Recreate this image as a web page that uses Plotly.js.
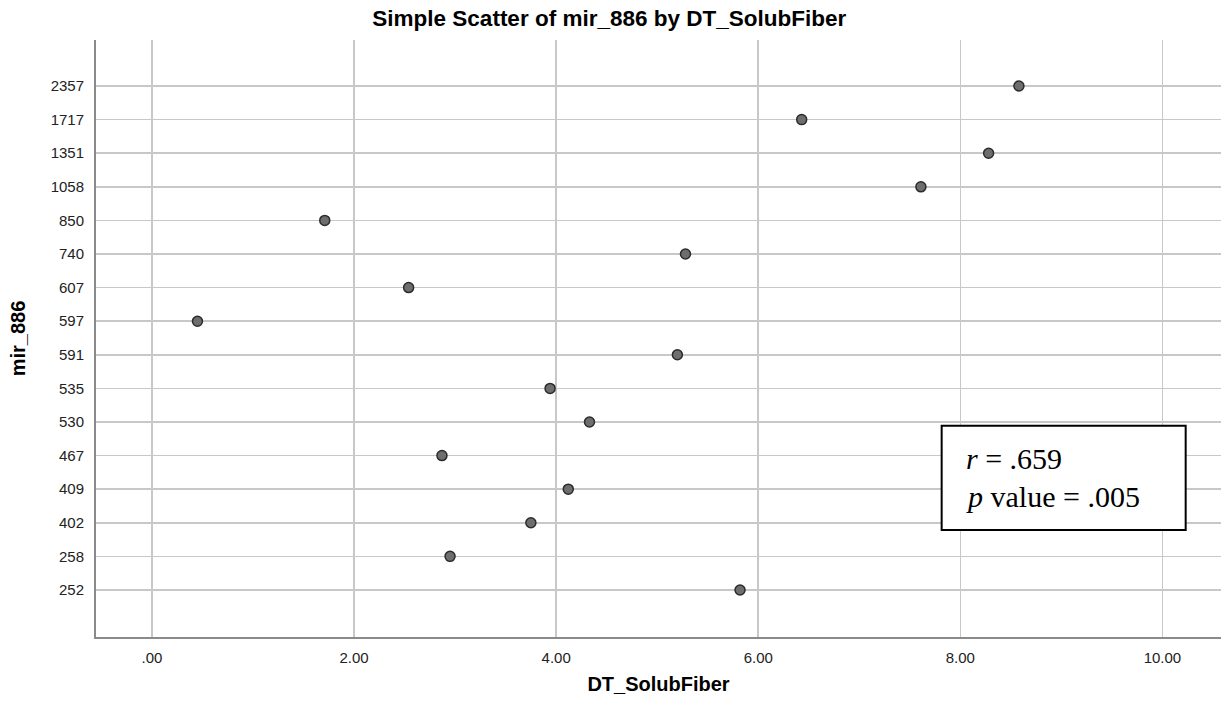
<!DOCTYPE html>
<html>
<head>
<meta charset="utf-8">
<script src="https://cdn.plot.ly/plotly-3.0.1.min.js"></script>
<style>html,body{margin:0;padding:0;background:#fff;}#chart{width:1221px;height:712px;}</style>
</head>
<body>
<div id="chart"></div>
<script>
// Categories of mir_886 (bottom to top)
const mirCategories = ["252","258","402","409","467","530","535","591","597","607","740","850","1058","1351","1717","2357"];
// Point data
const mirValues = ["2357","1717","1351","1058","850","740","607","597","591","535","530","467","409","402","258","252"];
const solubFiber = [8.58, 6.43, 8.28, 7.61, 1.71, 5.28, 2.54, 0.45, 5.20, 3.94, 4.33, 2.87, 4.12, 3.75, 2.95, 5.82];
// X tick labels
const xTickVals = [0, 2, 4, 6, 8, 10];
const xTickText = [".00", "2.00", "4.00", "6.00", "8.00", "10.00"];

const trace = {
  type: "scatter",
  mode: "markers",
  x: solubFiber,
  y: mirValues,
  marker: {size: 10, color: "#6e6e6e", line: {color: "#2b2b2b", width: 1.5}},
  hoverinfo: "x+y"
};

const layout = {
  width: 1221, height: 712,
  margin: {l: 96, r: 0, t: 40, b: 75},
  paper_bgcolor: "#ffffff", plot_bgcolor: "#ffffff",
  showlegend: false,
  title: {text: "<b>Simple Scatter of mir_886 by DT_SolubFiber</b>", x: 0.499, xanchor: "center", y: 0.975, yanchor: "middle",
          font: {family: "Liberation Sans, Arial, sans-serif", size: 22.5, color: "#000"}},
  xaxis: {
    range: [-0.554, 10.58],
    tickvals: xTickVals, ticktext: xTickText,
    showgrid: true, gridcolor: "#c8c8c8", gridwidth: 1.6,
    zeroline: false,
    showline: true, linecolor: "#8a8a8a", linewidth: 2,
    ticks: "", ticklabelstandoff: 6,
    tickfont: {family: "Liberation Sans, Arial, sans-serif", size: 15, color: "#222"},
    title: {text: "<b>DT_SolubFiber</b>", standoff: 12, font: {family: "Liberation Sans, Arial, sans-serif", size: 20, color: "#000"}}
  },
  yaxis: {
    type: "category",
    categoryorder: "array", categoryarray: mirCategories,
    range: [-1.4, 16.37],
    showgrid: true, gridcolor: "#c8c8c8", gridwidth: 1.6,
    zeroline: false,
    showline: true, linecolor: "#8a8a8a", linewidth: 2,
    ticks: "", ticklabelstandoff: 7,
    tickfont: {family: "Liberation Sans, Arial, sans-serif", size: 15, color: "#222"},
    title: {text: "<b>mir_886</b>", standoff: 20, font: {family: "Liberation Sans, Arial, sans-serif", size: 20, color: "#000"}}
  },
  shapes: [{
    type: "rect", xref: "paper", yref: "paper",
    x0: 0.7517, x1: 0.9686, y0: 0.1792, y1: 0.3539,
    fillcolor: "#ffffff", line: {color: "#000", width: 2}, layer: "above"
  }],
  annotations: [
    {xref: "paper", yref: "paper", x: 0.7716, y: 0.2998, xanchor: "left", yanchor: "middle", showarrow: false,
     text: "<i>r</i> = .659", font: {family: "Liberation Serif, Times New Roman, serif", size: 30, color: "#000"}},
    {xref: "paper", yref: "paper", x: 0.7716, y: 0.235, xanchor: "left", yanchor: "middle", showarrow: false,
     text: "<i>p</i> value = .005", font: {family: "Liberation Serif, Times New Roman, serif", size: 30, color: "#000"}}
  ]
};

Plotly.newPlot("chart", [trace], layout, {displayModeBar: false, staticPlot: true});
</script>
</body>
</html>
